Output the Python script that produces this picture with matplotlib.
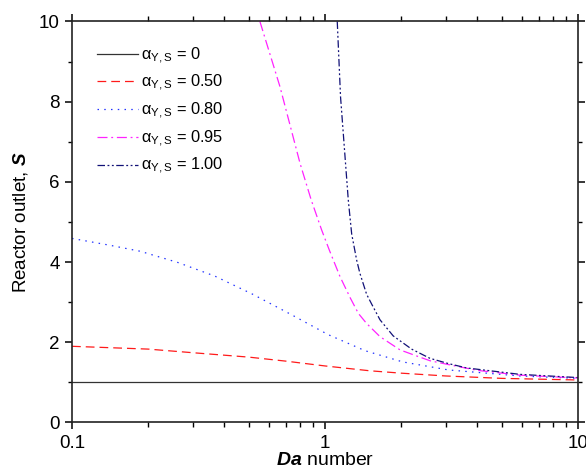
import matplotlib
matplotlib.use("Agg")
import matplotlib.pyplot as plt
from matplotlib.ticker import FixedLocator, FixedFormatter, MultipleLocator, LogLocator, NullFormatter

plt.rcParams['font.family'] = ['Liberation Sans', 'DejaVu Sans']
plt.rcParams['mathtext.fontset'] = 'custom'
plt.rcParams['mathtext.rm'] = 'Liberation Sans'
plt.rcParams['mathtext.it'] = 'Liberation Sans:italic'
plt.rcParams['mathtext.bf'] = 'Liberation Sans:bold:italic'

# Reactor outlet S versus Damkohler number for several alpha_{Y,S}
da_0 = [0.1, 10.0]
s_0 = [1.0, 1.0]

da_050 = [0.1, 0.2, 0.3, 0.5, 0.7, 1.0, 1.5, 2.0, 3.0, 5.0, 10.0]
s_050 = [1.90, 1.83, 1.74, 1.63, 1.53, 1.41, 1.29, 1.23, 1.16, 1.10, 1.06]

da_080 = [0.1, 0.141, 0.186, 0.262, 0.367, 0.517, 0.731, 1.03, 1.44, 2.03, 3.08, 5.9, 10.0]
s_080 = [4.59, 4.42, 4.27, 3.99, 3.65, 3.20, 2.70, 2.19, 1.79, 1.51, 1.31, 1.16, 1.10]

da_095 = [0.553, 0.664, 0.797, 0.882, 0.97, 1.04, 1.146, 1.26, 1.355, 1.46, 1.65, 1.98, 2.3, 2.6, 3.1, 4.0, 5.9, 10.0]
s_095 = [10.0, 8.37, 6.46, 5.55, 4.80, 4.30, 3.64, 3.10, 2.72, 2.47, 2.14, 1.81, 1.66, 1.54, 1.44, 1.30, 1.18, 1.11]

da_100 = [1.118, 1.152, 1.236, 1.275, 1.334, 1.374, 1.46, 1.53, 1.65, 1.86, 2.2, 2.6, 3.07, 3.63, 5.9, 10.0]
s_100 = [10.0, 8.12, 5.55, 4.70, 4.05, 3.72, 3.20, 2.95, 2.56, 2.16, 1.83, 1.60, 1.47, 1.36, 1.20, 1.12]

labels = ['α$_{\\mathrm{Y,S}}$ = 0', 'α$_{\\mathrm{Y,S}}$ = 0.50', 'α$_{\\mathrm{Y,S}}$ = 0.80',
          'α$_{\\mathrm{Y,S}}$ = 0.95', 'α$_{\\mathrm{Y,S}}$ = 1.00']

x_ticks = [0.1, 1, 10]
x_tick_labels = ['0.1', '1', '10']
y_ticks = [0, 2, 4, 6, 8, 10]

fig = plt.figure(figsize=(5.86, 4.71), dpi=100)
ax = fig.add_axes([0.1229, 0.103, 0.8634, 0.8514])

lw = 0.9
ax.plot(da_0, s_0, color='#333333', lw=lw, ls='-', label=labels[0])
ax.plot(da_050, s_050, color='#ff1a1a', lw=lw, ls=(0, (7, 4)), label=labels[1])
ax.plot(da_080, s_080, color='#2233ff', lw=lw, ls=(0, (1.2, 4.2)), label=labels[2])
ax.plot(da_095, s_095, color='#ff22ff', lw=lw, ls=(0, (8, 3, 1.5, 3)), label=labels[3])
ax.plot(da_100, s_100, color='#111177', lw=lw, ls=(0, (6, 2, 1.5, 2, 1.5, 2)), label=labels[4])

ax.set_xscale('log')
ax.set_xlim(0.1, 10)
ax.set_ylim(0, 10)

ax.xaxis.set_major_locator(FixedLocator(x_ticks))
ax.xaxis.set_major_formatter(FixedFormatter(x_tick_labels))
ax.xaxis.set_minor_locator(LogLocator(base=10, subs=range(2, 10)))
ax.xaxis.set_minor_formatter(NullFormatter())
ax.yaxis.set_major_locator(FixedLocator(y_ticks))
ax.yaxis.set_minor_locator(MultipleLocator(1))

for sp in ax.spines.values():
    sp.set_linewidth(1.2)
    sp.set_color('#222222')

ax.tick_params(axis='both', which='major', direction='out', labelsize=13.5,
               width=1.1, top=True, right=True, pad=4)
ax.tick_params(axis='x', which='major', length=5)
ax.tick_params(axis='x', which='minor', direction='out', length=3.5, width=1.0, top=True)
ax.tick_params(axis='y', which='major', length=5)
ax.tick_params(axis='y', which='minor', direction='out', length=3, width=1.0, right=True)

ax.set_xlabel(r'$\mathbf{Da}$ number', fontsize=14, labelpad=0)
ax.set_ylabel(r'Reactor outlet, $\mathbf{S}$', fontsize=13.5, labelpad=6)

leg = ax.legend(loc='upper left', bbox_to_anchor=(0.02, 0.977), frameon=False,
                fontsize=11.8, handlelength=2.5, handletextpad=0.2, labelspacing=0.45)

fig.savefig('out.png', dpi=100)
